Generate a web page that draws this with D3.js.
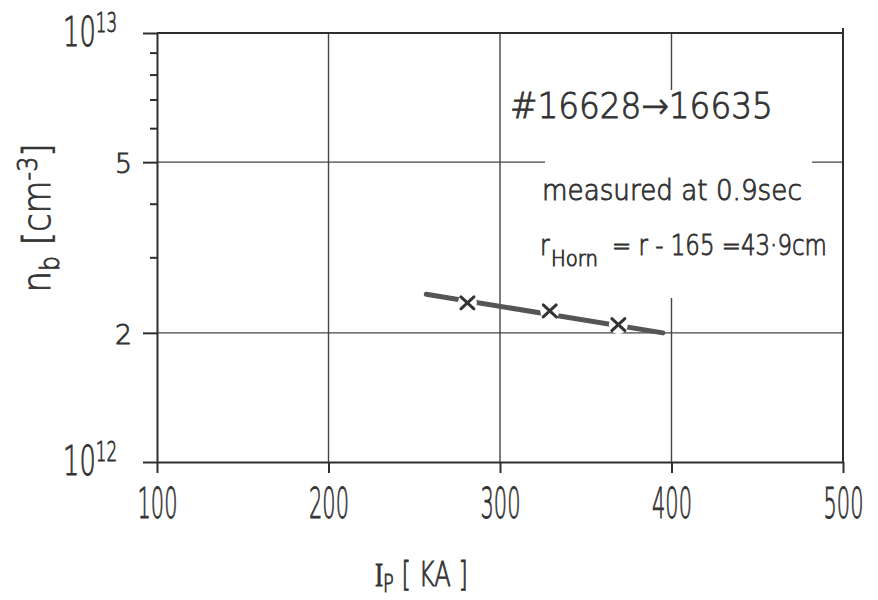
<!DOCTYPE html>
<html>
<head>
<meta charset="utf-8">
<script src="https://cdn.jsdelivr.net/npm/d3@7"></script>
<style>
  body { margin: 0; background: #fff; }
  text { font-family: "DejaVu Sans", "Liberation Sans", sans-serif; font-weight: 200; fill: #333; stroke: #333; stroke-width: 0.9px; }
</style>
</head>
<body>
<svg id="chart" width="878" height="600"></svg>
<script>
// plasma current (kA) and measured density (cm^-3) for shots 16628 -> 16635
const currentKA = [281, 329, 369];
const density = [2.35e12, 2.25e12, 2.09e12];
// hand drawn trend line through the points
const fitKA = [257, 395];
const fitDensity = [2.46e12, 2.0e12];

const xTicks = [100, 200, 300, 400, 500];
const xGrid = [200, 300, 400];
const yMajor = [1e12, 2e12, 5e12, 1e13];
const yMinor = [3e12, 4e12, 6e12, 7e12, 8e12, 9e12];
const yGrid = [2e12, 5e12];

const shotLabel = "#16628\u219216635";
const timeLabel = "measured at 0.9sec";
const hornLabel = "=  r - 165 =43\u00b79cm";

const ink = "#2e2e2e";
const svg = d3.select("#chart");

const x = d3.scaleLinear().domain([100, 500]).range([157, 843]);
const y = d3.scaleLog().domain([1e12, 1e13]).range([462, 33]);

// squeeze text horizontally about its x so the narrow drafting lettering fits
function squeeze(sel, width) {
  sel.each(function () {
    const w = this.getBBox().width;
    const ax = +this.getAttribute("x") || 0;
    const k = width / w;
    d3.select(this).attr("transform", `translate(${ax * (1 - k)},0) scale(${k},1)`);
  });
}

// grid
svg.append("g").selectAll("line").data(xGrid).join("line")
  .attr("x1", d => x(d)).attr("x2", d => x(d))
  .attr("y1", y(1e13)).attr("y2", y(1e12))
  .attr("stroke", "#444").attr("stroke-width", 1.4);
svg.append("g").selectAll("line").data(yGrid).join("line")
  .attr("x1", x(100)).attr("x2", x(500))
  .attr("y1", d => y(d)).attr("y2", d => y(d))
  .attr("stroke", "#444").attr("stroke-width", 1.4);

// frame top and right
svg.append("line").attr("x1", x(100)).attr("x2", x(500))
  .attr("y1", y(1e13)).attr("y2", y(1e13))
  .attr("stroke", ink).attr("stroke-width", 2);
svg.append("line").attr("x1", x(500)).attr("x2", x(500))
  .attr("y1", y(1e13) - 5).attr("y2", y(1e12))
  .attr("stroke", ink).attr("stroke-width", 2);

// white patch behind the annotation (grid is broken there)
svg.append("rect").attr("x", 545).attr("y", 90).attr("width", 267).attr("height", 208).attr("fill", "#fff");

// x axis
const xAxis = svg.append("g").attr("transform", `translate(0,${y(1e12)})`)
  .call(d3.axisBottom(x).tickValues(xTicks).tickSize(11).tickSizeOuter(0).tickPadding(14).tickFormat(d3.format("d")))
  .attr("font-family", null).attr("font-size", 43);
xAxis.select(".domain").attr("stroke", ink).attr("stroke-width", 2);
xAxis.selectAll(".tick line").attr("stroke", ink).attr("stroke-width", 2);
xAxis.selectAll(".tick text").attr("fill", "#333");
{
  const t = xAxis.selectAll(".tick text");
  const k = 40 / t.nodes()[2].getBBox().width;
  t.attr("transform", `scale(${k},1)`);
}

// y axis, major ticks
const yAxis = svg.append("g").attr("transform", `translate(${x(100)},0)`)
  .call(d3.axisLeft(y).tickValues(yMajor).tickSize(14).tickSizeOuter(0).tickPadding(11))
  .attr("font-family", null).attr("font-size", 27);
yAxis.select(".domain").attr("stroke", ink).attr("stroke-width", 2);
yAxis.selectAll(".tick line").attr("stroke", ink).attr("stroke-width", 2);
yAxis.selectAll(".tick text").each(function (d) {
  const t = d3.select(this).attr("fill", "#333").text(null);
  const exp = Math.round(Math.log10(d));
  if (d === 10 ** exp) {
    t.attr("x", -40).attr("font-size", 40).attr("dy", "0.32em");
    t.append("tspan").text("10");
    t.append("tspan").attr("font-size", 26).attr("dy", -14).text(exp);
    squeeze(t, 54);
  } else {
    t.attr("dy", "0.4em").text(d / 1e12);
    squeeze(t, 17);
  }
});

// y axis, minor ticks
const yMinorAxis = svg.append("g").attr("transform", `translate(${x(100)},0)`)
  .call(d3.axisLeft(y).tickValues(yMinor).tickSize(7).tickFormat(""));
yMinorAxis.select(".domain").remove();
yMinorAxis.selectAll(".tick line").attr("stroke", ink).attr("stroke-width", 2);

// axis titles
const xTitle = svg.append("text").attr("x", 375).attr("y", 586).attr("font-size", 34);
xTitle.append("tspan").style("font-family", "'Liberation Serif', serif").text("I");
xTitle.append("tspan").attr("font-size", 25).attr("dy", 6).text("P");
xTitle.append("tspan").attr("dy", -6).text(" [ KA ]");
squeeze(xTitle, 93);

const yTitleG = svg.append("g").attr("transform", "translate(50,218) rotate(-90)");
const yTitle = yTitleG.append("text").attr("x", 0).attr("y", 0).attr("text-anchor", "middle").attr("font-size", 37);
yTitle.append("tspan").text("n");
yTitle.append("tspan").attr("font-size", 26).attr("dy", 9).text("b");
yTitle.append("tspan").attr("dy", -9).text(" [cm");
yTitle.append("tspan").attr("font-size", 26).attr("dy", -13).text("-3");
yTitle.append("tspan").attr("dy", 13).text("]");
squeeze(yTitle, 149);

// trend line and measured points
svg.append("path")
  .datum(d3.zip(fitKA, fitDensity))
  .attr("d", d3.line().x(d => x(d[0])).y(d => y(d[1])))
  .attr("fill", "none").attr("stroke", "#555").attr("stroke-width", 5).attr("stroke-linecap", "round");

const pts = svg.append("g").selectAll("g").data(d3.zip(currentKA, density)).join("g")
  .attr("transform", d => `translate(${x(d[0])},${y(d[1])})`);
pts.append("circle").attr("r", 9.5).attr("fill", "#fff");
pts.append("path").attr("d", "M-6.5,-6 L6.5,6 M-6.5,6 L6.5,-6")
  .attr("stroke", "#333").attr("stroke-width", 3).attr("stroke-linecap", "round");

// annotation
squeeze(svg.append("text").attr("x", 510).attr("y", 118).attr("font-size", 36).text(shotLabel), 263);
squeeze(svg.append("text").attr("x", 542).attr("y", 200).attr("font-size", 28).text(timeLabel), 260);
squeeze(svg.append("text").attr("x", 540).attr("y", 255).attr("font-size", 28).text("r"), 10);
squeeze(svg.append("text").attr("x", 551).attr("y", 266).attr("font-size", 21).text("Horn"), 47);
squeeze(svg.append("text").attr("x", 612).attr("y", 255).attr("font-size", 28).text(hornLabel), 215);
</script>
</body>
</html>
